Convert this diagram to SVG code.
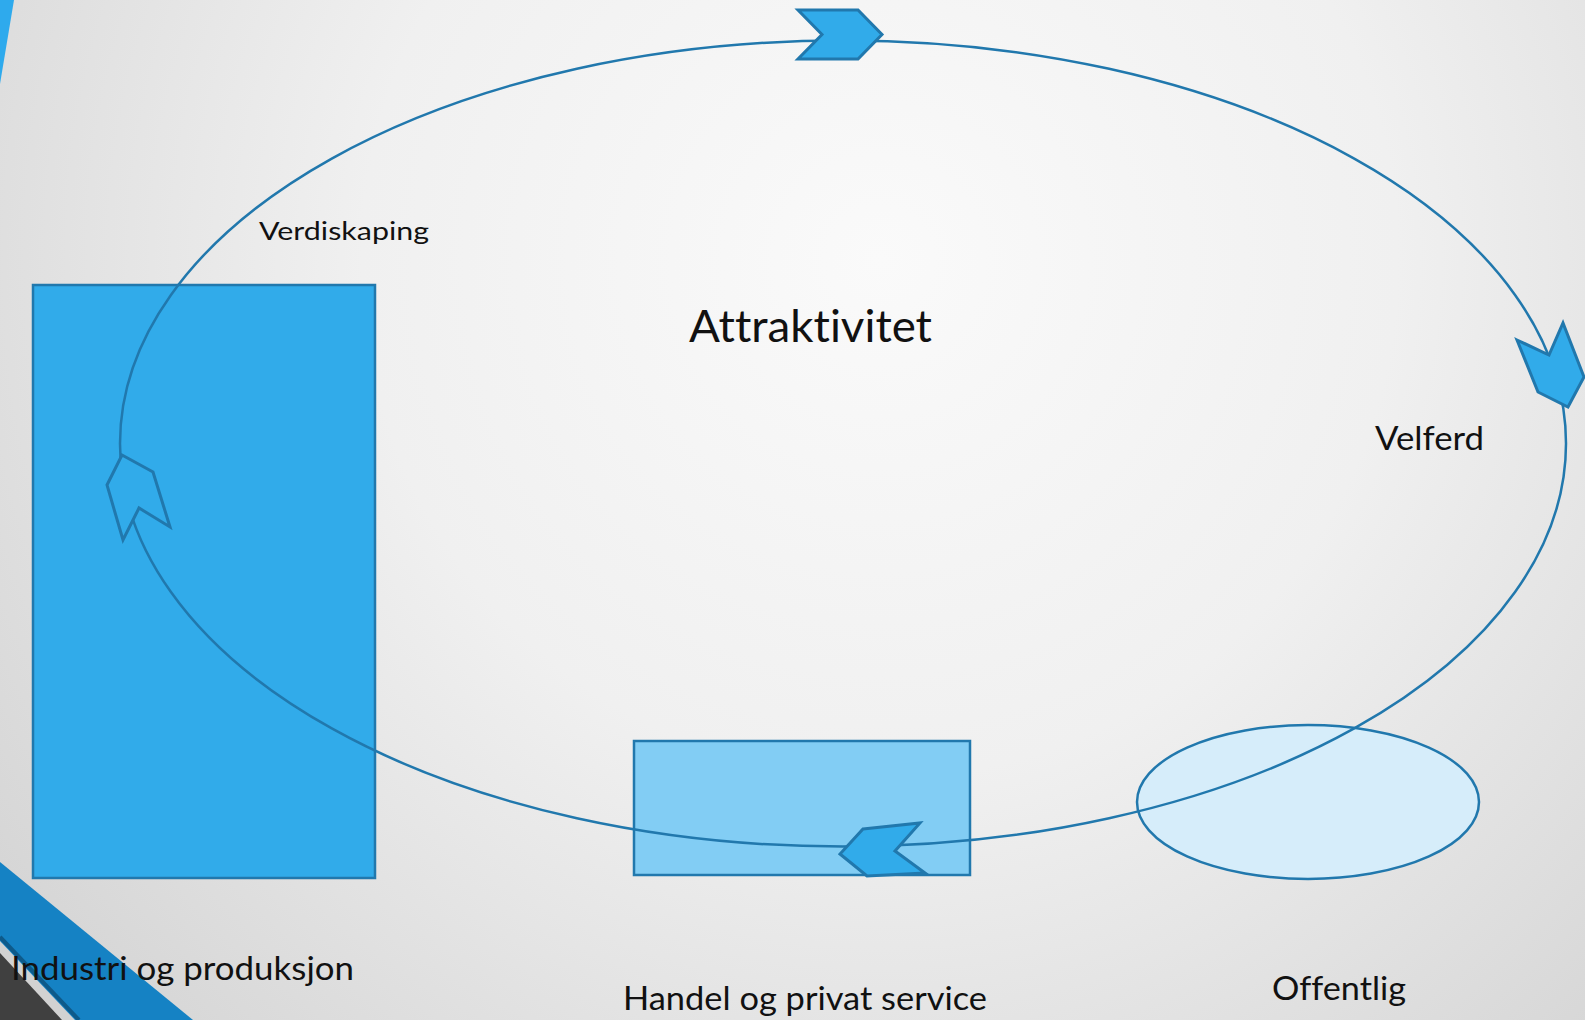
<svg xmlns="http://www.w3.org/2000/svg" width="1585" height="1020" viewBox="0 0 1585 1020">
  <defs>
    <radialGradient id="bg" cx="880" cy="260" r="1150" gradientUnits="userSpaceOnUse">
      <stop offset="0" stop-color="#fafafa"/>
      <stop offset="0.45" stop-color="#f0f0f0"/>
      <stop offset="1" stop-color="#d2d2d2"/>
    </radialGradient>
    <style>
      .node { stroke: #2178ad; stroke-width: 2.5; }
      .arrow { fill: #31abea; stroke: #2178ad; stroke-width: 3; stroke-linejoin: miter; }
      .loop { fill: none; stroke: #2178ad; stroke-width: 2.5; }
      .lbl { font-family: Lato, "Open Sans", "DejaVu Sans", sans-serif; fill: #111111; font-variant-ligatures: none; font-feature-settings: "liga" 0; }
    </style>
  </defs>

  <!-- background -->
  <rect x="0" y="0" width="1585" height="1020" fill="url(#bg)"/>
  <polygon points="0,0 14,0 0,84" fill="#2eaaed"/>
  <polygon points="0,862 193,1020 0,1020" fill="#1582c4"/>
  <line x1="0" y1="937" x2="79" y2="1020" stroke="#0e5a8a" stroke-width="4"/>
  <polygon points="0,941 75,1020 0,1020" fill="#d2d2d2"/>
  <polygon points="0,953 62,1020 0,1020" fill="#404040"/>

  <!-- nodes -->
  <g id="node-industri">
    <rect class="node" x="33" y="285" width="342" height="593" fill="#31abea"/>
  </g>
  <g id="node-handel">
    <rect class="node" x="634" y="741" width="336" height="134" fill="#82cdf4"/>
  </g>
  <g id="node-offentlig">
    <ellipse class="node" cx="1308" cy="802" rx="171" ry="77" fill="#d6edfa"/>
  </g>

  <!-- connectors -->
  <g id="connectors">
    <ellipse class="loop" cx="843" cy="443.5" rx="723" ry="403"/>
    <polygon class="arrow" points="798,10 858,10 882,34.5 858,59 798,59 822,34.5"/>
    <polygon class="arrow" points="1517,340 1549,355 1563,323 1584,377 1568,407 1538,392"/>
    <polygon class="arrow" points="863,829 920,823 895,851 925,873 867,876 840,854"/>
    <polygon class="arrow" points="122,455 153,472 170,527 139,508 123,540 107,485"/>
  </g>

  <!-- labels -->
  <g id="labels">
    <text class="lbl" x="259" y="240" font-size="25" textLength="170" lengthAdjust="spacingAndGlyphs">Verdiskaping</text>
    <text class="lbl" x="689" y="342" font-size="45" textLength="243" lengthAdjust="spacingAndGlyphs">Attraktivitet</text>
    <text class="lbl" x="1375" y="450" font-size="33" textLength="109" lengthAdjust="spacingAndGlyphs">Velferd</text>
    <text class="lbl" x="11" y="980" font-size="33" textLength="343" lengthAdjust="spacingAndGlyphs">Industri og produksjon</text>
    <text class="lbl" x="623" y="1010" font-size="33" textLength="364" lengthAdjust="spacingAndGlyphs">Handel og privat service</text>
    <text class="lbl" x="1272" y="1000" font-size="33" textLength="134" lengthAdjust="spacingAndGlyphs">Offentlig</text>
  </g>
</svg>
